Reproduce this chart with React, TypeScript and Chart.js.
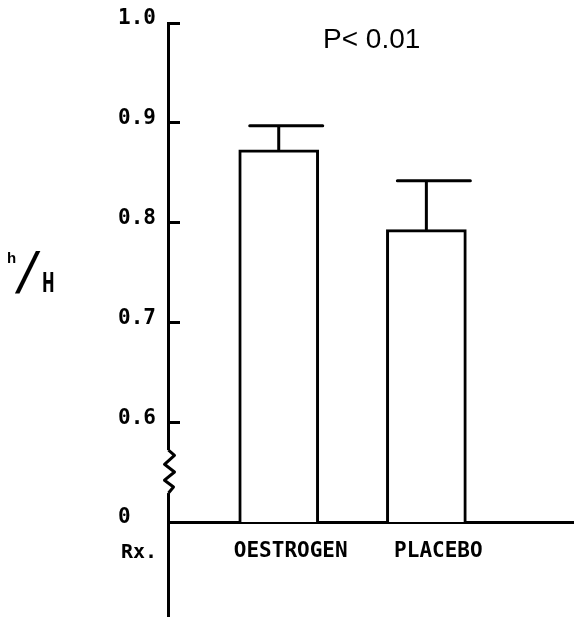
import { useEffect, useRef } from 'react';
import { Chart, registerables } from 'chart.js';

Chart.register(...registerables);

// ---- data ----
const categories = ['OESTROGEN', 'PLACEBO'];
const categoryPositions = [1, 2];
const meanRatio = [0.873, 0.793];
const semRatio = [0.024, 0.049];
const yTickValues = [0.5, 0.6, 0.7, 0.8, 0.9, 1.0];
const yTickLabels = ['0', '0.6', '0.7', '0.8', '0.9', '1.0'];
const significanceLabel = 'P< 0.01';
const rowLabel = 'Rx.';

const MONO = "'DejaVu Sans Mono', 'Liberation Mono', monospace";
const SANS = "'Liberation Sans', Arial, sans-serif";
const NARROW = "'Liberation Sans Narrow', 'DejaVu Sans Condensed', sans-serif";

export default function App() {
  const ref = useRef<HTMLCanvasElement>(null);

  useEffect(() => {
    document.body.style.margin = '0';
    const canvas = ref.current;
    if (!canvas) return;

    const decorations = {
      id: 'decorations',
      afterDatasetsDraw(chart: any) {
        const { ctx, scales } = chart;
        const x = scales.x;
        const y = scales.y;
        ctx.save();
        ctx.strokeStyle = '#000';
        ctx.lineWidth = 3;
        ctx.lineCap = 'round';
        categoryPositions.forEach((pos, i) => {
          const px = x.getPixelForValue(pos);
          const top = y.getPixelForValue(meanRatio[i]);
          const err = y.getPixelForValue(meanRatio[i] + semRatio[i]);
          ctx.beginPath();
          ctx.moveTo(px, top);
          ctx.lineTo(px, err);
          ctx.moveTo(px - 29, err);
          ctx.lineTo(px + 44, err);
          ctx.stroke();
        });
        ctx.restore();
      },
      afterDraw(chart: any) {
        const { ctx, scales, chartArea } = chart;
        const y = scales.y;
        const axisX = Math.round(y.right - 1.5) + 1.5;
        ctx.save();
        // extension of the vertical axis below the baseline
        ctx.strokeStyle = '#000';
        ctx.lineWidth = 3;
        ctx.beginPath();
        ctx.moveTo(axisX, chartArea.bottom);
        ctx.lineTo(axisX, chart.height);
        ctx.stroke();
        // axis break squiggle
        const b0 = y.getPixelForValue(0.572);
        const b1 = y.getPixelForValue(0.529);
        ctx.fillStyle = '#fff';
        ctx.fillRect(axisX - 3, b0, 6, b1 - b0);
        const h = b1 - b0;
        const pts: [number, number][] = [
          [0, 0], [6, 0.12], [-4, 0.33], [6, 0.51], [-4, 0.7], [5, 0.86], [0, 1],
        ];
        ctx.lineJoin = 'round';
        ctx.beginPath();
        pts.forEach(([dx, f], i) => {
          const px = axisX + dx;
          const py = b0 + f * h;
          if (i === 0) ctx.moveTo(px, py);
          else ctx.lineTo(px, py);
        });
        ctx.stroke();

        // texts
        ctx.fillStyle = '#000';
        ctx.textBaseline = 'middle';
        ctx.textAlign = 'left';
        ctx.font = `bold 20px ${MONO}`;
        ctx.fillText(rowLabel, 121, 553);
        ctx.font = `28px ${SANS}`;
        ctx.fillText(significanceLabel, 323, 40);

        // h/H
        ctx.textBaseline = 'alphabetic';
        ctx.font = `bold 15px ${SANS}`;
        ctx.fillText('h', 7, 263);
        ctx.save();
        ctx.translate(15, 293);
        ctx.transform(1, 0, -0.22, 1, 0, 0);
        ctx.font = `58px ${SANS}`;
        ctx.fillText('/', 0, 0);
        ctx.restore();
        ctx.save();
        ctx.translate(42, 292);
        ctx.scale(0.62, 1);
        ctx.font = `bold 27px ${NARROW}`;
        ctx.fillText('H', 0, 0);
        ctx.restore();
        ctx.restore();
      },
    };

    const chart = new Chart(canvas, {
      type: 'bar',
      data: {
        datasets: [
          {
            data: categoryPositions.map((p, i) => ({ x: p, y: meanRatio[i] })),
            backgroundColor: '#ffffff',
            borderColor: '#000000',
            borderWidth: 3,
            borderSkipped: 'bottom',
            barThickness: 80,
          },
        ],
      },
      options: {
        animation: false,
        responsive: false,
        devicePixelRatio: 1,
        layout: { padding: { top: 23, left: 118, right: 0, bottom: 0 } },
        plugins: {
          legend: { display: false },
          tooltip: { enabled: false },
          title: { display: false },
        },
        scales: {
          x: {
            type: 'linear',
            position: 'bottom',
            min: 0.25,
            max: 3,
            offset: false,
            grid: { display: false, drawTicks: false, offset: false },
            border: { display: true, color: '#000', width: 3 },
            afterBuildTicks: (s: any) => {
              s.ticks = categoryPositions.map((v) => ({ value: v }));
            },
            afterFit: (s: any) => {
              s.height = 95;
            },
            ticks: {
              color: '#000',
              font: { family: MONO, size: 21, weight: 'bold' },
              padding: 17,
              labelOffset: 12,
              maxRotation: 0,
              autoSkip: false,
              callback: (_v: any, i: number) => categories[i],
            },
          },
          y: {
            type: 'linear',
            position: 'left',
            min: 0.5,
            max: 1.0,
            grid: {
              display: true,
              drawOnChartArea: false,
              drawTicks: true,
              tickLength: -12,
              tickWidth: 3,
              tickColor: '#000',
              color: '#000',
            },
            border: { display: true, color: '#000', width: 3 },
            afterBuildTicks: (s: any) => {
              s.ticks = yTickValues.map((v) => ({ value: v }));
            },
            afterFit: (s: any) => {
              s.width = 50;
            },
            ticks: {
              color: '#000',
              font: { family: MONO, size: 21, weight: 'bold' },
              crossAlign: 'far',
              labelOffset: -4,
              autoSkip: false,
              callback: (_v: any, i: number) => yTickLabels[i],
            },
          },
        },
      },
      plugins: [decorations],
    } as any);

    return () => chart.destroy();
  }, []);

  return (
    <div style={{ width: 574, height: 617 }}>
      <canvas ref={ref} width={574} height={617} style={{ display: 'block' }} />
    </div>
  );
}
